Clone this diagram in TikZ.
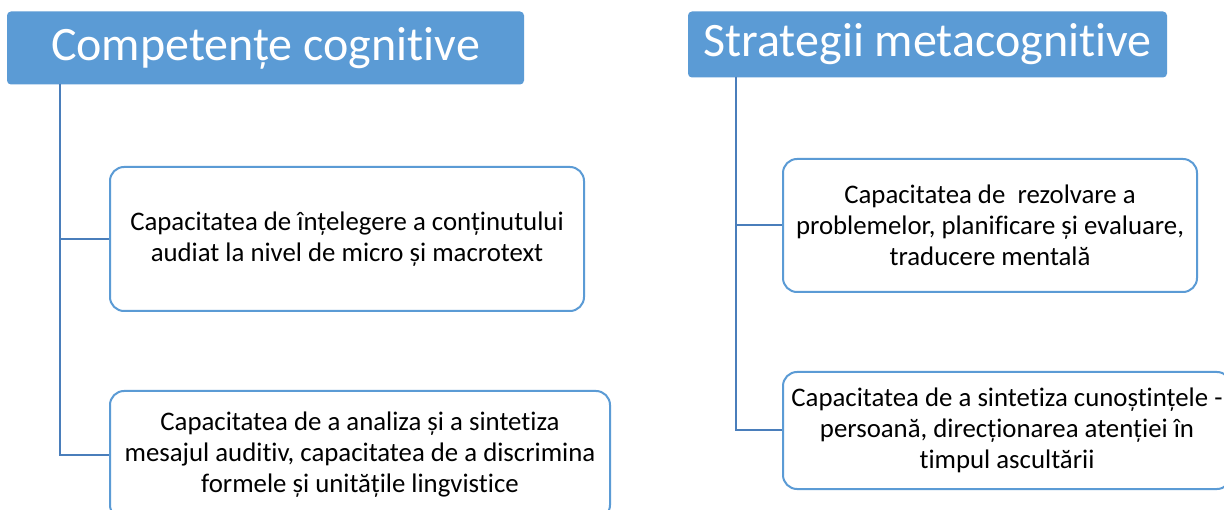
\documentclass[tikz,border=0pt]{standalone}
\usepackage{fontspec}
\setmainfont[Ligatures={NoCommon}]{Carlito}
\definecolor{hdrblue}{HTML}{5B9BD5}
\definecolor{boxblue}{HTML}{5B9BD5}
\definecolor{linkblue}{HTML}{4A7EBB}
\tikzset{
  hdr/.style={rectangle, rounded corners=4pt, fill=hdrblue, draw=none, text=white,
    font=\fontsize{48}{56}\selectfont, inner sep=0pt},
  itembox/.style={rectangle, rounded corners=14pt, draw=boxblue, line width=2pt, fill=white,
    align=center, font=\fontsize{26.8}{31}\selectfont, inner sep=0pt},
  link/.style={draw=linkblue, line width=2pt}
}
\begin{document}
\begin{tikzpicture}[x=1pt,y=-1pt]
\useasboundingbox (0,0) rectangle (1224,510);
\clip (0,0) rectangle (1224,510);
\fill[white] (0,0) rectangle (1224,510);
% headers
\node[hdr, minimum width=517pt, minimum height=73pt] (h1) at (265.5,48) {Competențe cognitive};
\node[hdr, minimum width=479pt, minimum height=66pt] (h2) at (927.5,44.5) {Strategii metacognitive};
% boxes
\node[itembox, minimum width=474pt, minimum height=144pt] (b1) at (347,239) {Capacitatea de înțelegere a conținutului\\audiat la nivel de micro și macrotext};
\node[itembox, minimum width=500pt, minimum height=128pt] (b2) at (360,455) {Capacitatea de a analiza și a sintetiza\\mesajul auditiv, capacitatea de a discrimina\\formele și unitățile lingvistice};
\node[itembox, minimum width=414pt, minimum height=133pt] (b3) at (990,225.5) {Capacitatea de\ \ rezolvare a\\problemelor, planificare și evaluare,\\traducere mentală};
\node[itembox, minimum width=448pt, minimum height=117pt] (b4) at (1007,430.5) {Capacitatea de a sintetiza cunoștințele -\\persoană, direcționarea atenției în\\timpul ascultării};
% connectors
\coordinate (t1) at (60,84);
\coordinate (t2) at (736,77);
\draw[link] (t1) |- (b1.west);
\draw[link] (t1) |- (b2.west);
\draw[link] (t2) |- (b3.west);
\draw[link] (t2) |- (b4.west);
\end{tikzpicture}
\end{document}
